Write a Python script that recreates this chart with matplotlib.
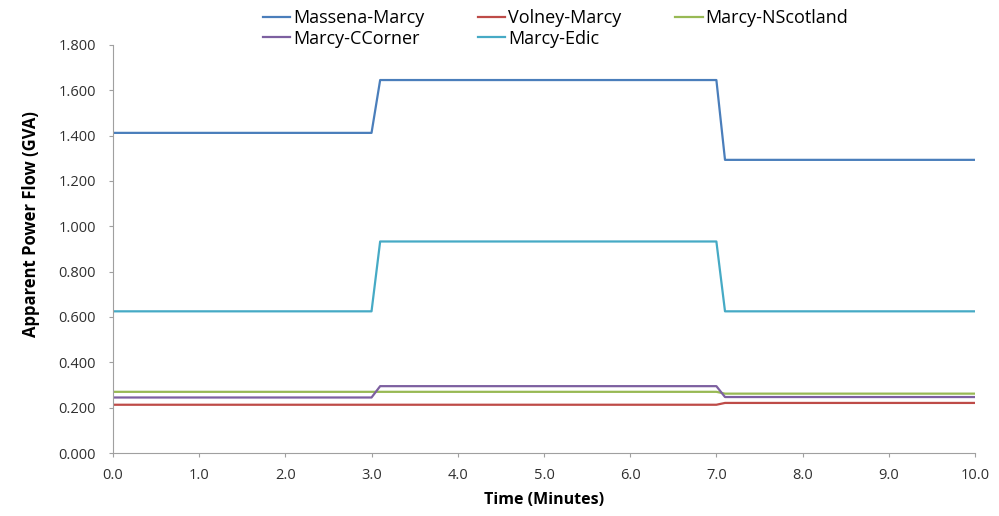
import matplotlib
matplotlib.use('Agg')
import matplotlib.pyplot as plt

plt.rcParams['font.family'] = ['Open Sans', 'DejaVu Sans']

# time breakpoints (minutes)
time = [0.0, 3.0, 3.1, 7.0, 7.1, 10.0]

massena_marcy = [1.412, 1.412, 1.645, 1.645, 1.293, 1.293]
volney_marcy = [0.213, 0.213, 0.213, 0.213, 0.221, 0.221]
marcy_nscotland = [0.270, 0.270, 0.270, 0.270, 0.262, 0.262]
marcy_ccorner = [0.245, 0.245, 0.295, 0.295, 0.247, 0.247]
marcy_edic = [0.625, 0.625, 0.933, 0.933, 0.625, 0.625]

series = [
    ('Massena-Marcy', massena_marcy, '#4A7EBB'),
    ('Volney-Marcy', volney_marcy, '#BE4B48'),
    ('Marcy-NScotland', marcy_nscotland, '#98B954'),
    ('Marcy-CCorner', marcy_ccorner, '#7D60A0'),
    ('Marcy-Edic', marcy_edic, '#46AAC5'),
]

fig = plt.figure(figsize=(9.99, 5.16), dpi=100)
ax = fig.add_axes([0.113, 0.122, 0.863, 0.791])

lines = {}
for name, vals, col in series:
    lines[name], = ax.plot(time, vals, color=col, lw=1.6, label=name)

ax.set_xlim(0, 10)
ax.set_ylim(0, 1.8)
ax.set_xticks([i * 1.0 for i in range(11)])
ax.set_xticklabels([f'{i:.1f}' for i in range(11)])
yt = [i * 0.2 for i in range(10)]
ax.set_yticks(yt)
ax.set_yticklabels([f'{v:.3f}' for v in yt])
ax.tick_params(labelsize=10.5, colors='#A0A0A0', labelcolor='#303030',
               direction='out', length=3)
ax.tick_params(axis='y', pad=9)
ax.tick_params(axis='x', pad=8)
for s in ['top', 'right']:
    ax.spines[s].set_visible(False)
for s in ['left', 'bottom']:
    ax.spines[s].set_color('#A0A0A0')

ax.set_xlabel('Time (Minutes)', fontsize=11.5, fontweight='bold', labelpad=6)
ax.set_ylabel('Apparent Power Flow (GVA)', fontsize=12, fontweight='bold')
ax.yaxis.set_label_coords(-0.085, 0.56)

# row-wise legend order (matplotlib fills columns first)
order = ['Massena-Marcy', 'Marcy-CCorner', 'Volney-Marcy', 'Marcy-Edic', 'Marcy-NScotland']
fig.legend([lines[n] for n in order], order, ncol=3, frameon=False,
           loc='upper left', bbox_to_anchor=(254 / 999, 1.0),
           borderpad=0, fontsize=13, handlelength=1.5, handletextpad=0.15,
           columnspacing=3.0, labelspacing=0.15)

fig.savefig('out.png', dpi=100)
